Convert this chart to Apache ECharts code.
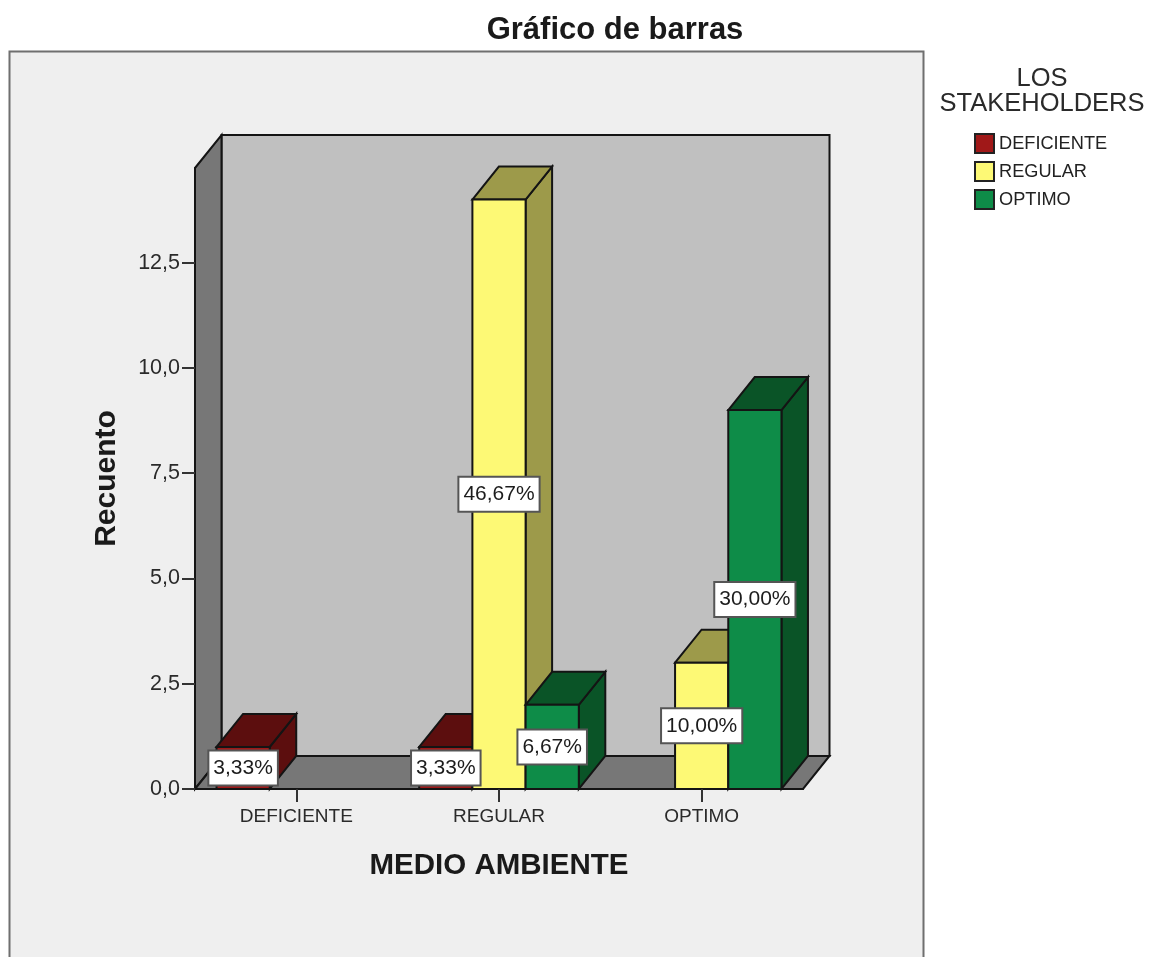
<!DOCTYPE html>
<html>
<head>
<meta charset="utf-8">
<style>html,body{margin:0;padding:0;background:#fff}#c{width:1150px;height:957px}</style>
<script src="https://cdn.jsdelivr.net/npm/echarts@6/dist/echarts.min.js"></script>
</head>
<body>
<div id="c"></div>
<script>
const categories = ['DEFICIENTE', 'REGULAR', 'OPTIMO'];
const yTicks = [0, 2.5, 5, 7.5, 10, 12.5];
const deficiente = [1, 1, null];
const regular = [null, 14, 3];
const optimo = [null, 2, 9];
const deficienteLabels = ['3,33%', '3,33%', null];
const regularLabels = [null, '46,67%', '10,00%'];
const optimoLabels = [null, '6,67%', '30,00%'];

const FONT = '"Liberation Sans", Arial, sans-serif';
const DX = 26.5, DY = 33, BAR_RATIO = 0.2625, INK = '#141414';

const poly = (points, fill) => ({
  type: 'polygon', shape: { points },
  style: { fill, stroke: INK, lineWidth: 2, lineJoin: 'miter' }
});

function wallsItem(params) {
  const c = params.coordSys;
  const l = c.x, r = c.x + c.width, t = c.y, b = c.y + c.height;
  const side = '#777777', back = '#c0c0c0';
  return { type: 'group', children: [
    poly([[l + DX, t - DY], [r + DX, t - DY], [r + DX, b - DY], [l + DX, b - DY]], back),
    poly([[l, t], [l + DX, t - DY], [l + DX, b - DY], [l, b]], side),
    poly([[l, b], [l + DX, b - DY], [r + DX, b - DY], [r, b]], side)
  ]};
}

function barSeries(name, values, offset, front, dark) {
  return {
    name, type: 'custom', z: 3, clip: false,
    itemStyle: { color: front },
    data: values.map((v, i) => [i, v]).filter(d => d[1] !== null),
    renderItem(params, api) {
      const w = api.size([1, 0])[0] * BAR_RATIO;
      const top = api.coord([api.value(0), api.value(1)]);
      const base = api.coord([api.value(0), 0]);
      const x0 = top[0] + (offset - 0.5) * w, x1 = x0 + w;
      return { type: 'group', children: [
        poly([[x1, top[1]], [x1 + DX, top[1] - DY], [x1 + DX, base[1] - DY], [x1, base[1]]], dark),
        poly([[x0, top[1]], [x0 + DX, top[1] - DY], [x1 + DX, top[1] - DY], [x1, top[1]]], dark),
        poly([[x0, top[1]], [x1, top[1]], [x1, base[1]], [x0, base[1]]], front)
      ]};
    }
  };
}

function labelSeries(values, labels, offset) {
  return {
    type: 'custom', z: 8, clip: false, silent: true,
    data: values.map((v, i) => [i, v, labels[i]]).filter(d => d[1] !== null),
    renderItem(params, api) {
      const w = api.size([1, 0])[0] * BAR_RATIO;
      const p = api.coord([api.value(0), api.value(1) / 2]);
      return {
        type: 'text', x: p[0] + offset * w, y: p[1],
        style: {
          text: labels[api.value(0)], fill: '#1c1c1c', font: '21px ' + FONT,
          align: 'center', verticalAlign: 'middle',
          backgroundColor: '#ffffff', borderColor: '#555555', borderWidth: 2,
          padding: [7, 4, 5, 4]
        }
      };
    }
  };
}

const chart = echarts.init(document.getElementById('c'), null, { renderer: 'canvas' });
chart.setOption({
  animation: false,
  backgroundColor: '#ffffff',
  textStyle: { fontFamily: FONT },
  graphic: [{
    type: 'rect', silent: true, z: -10,
    shape: { x: 9.5, y: 51.5, width: 914, height: 930 },
    style: { fill: '#efefef', stroke: '#6f6f6f', lineWidth: 2 }
  }],
  title: [
    { text: 'Gráfico de barras', left: 610, top: 10, textAlign: 'center',
      textStyle: { fontFamily: FONT, fontSize: 31, fontWeight: 'bold', color: '#1a1a1a' } },
    { text: 'LOS\nSTAKEHOLDERS', left: 1037, top: 61, textAlign: 'center',
      textStyle: { fontFamily: FONT, fontSize: 25.5, fontWeight: 'normal', color: '#2a2a2a', lineHeight: 25 } }
  ],
  legend: {
    orient: 'vertical', left: 969, top: 128, icon: 'rect',
    itemWidth: 19, itemHeight: 19, itemGap: 7,
    selectedMode: false,
    data: ['DEFICIENTE', 'REGULAR', 'OPTIMO'],
    itemStyle: { borderColor: '#222222', borderWidth: 2 },
    textStyle: { fontFamily: FONT, fontSize: 18.2, color: '#222222', padding: [2, 0, 0, 0] }
  },
  grid: { left: 195, top: 168, width: 608, height: 621, containLabel: false },
  xAxis: {
    type: 'category', data: categories, z: 5,
    name: 'MEDIO AMBIENTE', nameLocation: 'middle', nameGap: 62,
    nameTextStyle: { fontFamily: FONT, fontSize: 29.5, fontWeight: 'bold', color: '#1a1a1a' },
    axisLine: { show: true, lineStyle: { color: INK, width: 2 } },
    axisTick: { show: true, alignWithLabel: true, length: 13, lineStyle: { color: '#333333', width: 2 } },
    axisLabel: { fontFamily: FONT, fontSize: 19, color: '#2a2a2a', margin: 18 },
    splitLine: { show: false }
  },
  yAxis: {
    type: 'value', min: 0, max: 14.75, z: 5,
    name: 'Recuento', nameLocation: 'middle', nameGap: 73, nameRotate: 90,
    nameTextStyle: { fontFamily: FONT, fontSize: 30, fontWeight: 'bold', color: '#1a1a1a' },
    axisLine: { show: true, lineStyle: { color: INK, width: 2 } },
    axisTick: { show: true, length: 13, customValues: yTicks, lineStyle: { color: '#333333', width: 2 } },
    axisLabel: { fontFamily: FONT, fontSize: 21.5, color: '#2a2a2a', margin: 15, customValues: yTicks, padding: [6, 0, 0, 0],
      formatter: v => v.toFixed(1).replace('.', ',') },
    splitLine: { show: false }
  },
  tooltip: { show: false },
  series: [
    { type: 'custom', z: 2, clip: false, silent: true, data: [[0, 0]], renderItem: wallsItem },
    barSeries('DEFICIENTE', deficiente, -1, '#a01818', '#5c0e0e'),
    barSeries('REGULAR', regular, 0, '#fdf975', '#9d9a4a'),
    barSeries('OPTIMO', optimo, 1, '#0e8c48', '#0a5427'),
    labelSeries(deficiente, deficienteLabels, -1),
    labelSeries(regular, regularLabels, 0),
    labelSeries(optimo, optimoLabels, 1)
  ]
});
</script>
</body>
</html>
